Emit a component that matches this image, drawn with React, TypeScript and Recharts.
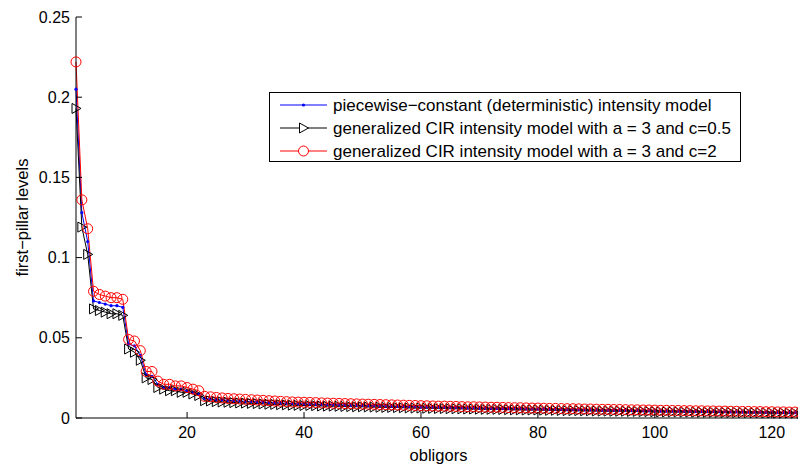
import React from 'react';
import { LineChart, Line, XAxis, YAxis, Legend } from 'recharts';

const obligors: number[] = Array.from({ length: 125 }, (_, i) => i + 1);

const xTicks = [20, 40, 60, 80, 100, 120];
const yTicks = [0, 0.05, 0.1, 0.15, 0.2, 0.25];

const seriesOrder = ['pw', 'c05', 'c2'];
const seriesNames = {
  pw: 'piecewise\u2212constant (deterministic) intensity model',
  c05: 'generalized CIR intensity model with a = 3 and c=0.5',
  c2: 'generalized CIR intensity model with a = 3 and c=2',
};

const piecewise = [
  0.205, 0.128, 0.110, 0.073, 0.072, 0.071, 0.070, 0.070, 0.069, 0.046,
  0.045, 0.039, 0.027, 0.026, 0.021, 0.019, 0.019, 0.018, 0.018, 0.017,
  0.016, 0.015, 0.0122, 0.0119, 0.0115, 0.0113, 0.0110, 0.0108, 0.0106, 0.0104,
  0.0103, 0.0101, 0.0099, 0.0097, 0.0095, 0.0094, 0.0092, 0.0090, 0.0089, 0.0088,
  0.0087, 0.0086, 0.0085, 0.0084, 0.0083, 0.0082, 0.0081, 0.0080, 0.0079, 0.0078,
  0.0077, 0.0077, 0.0076, 0.0075, 0.0074, 0.0073, 0.0072, 0.0071, 0.0070, 0.0069,
  0.0068, 0.0068, 0.0067, 0.0067, 0.0066, 0.0065, 0.0064, 0.0063, 0.0063, 0.0062,
  0.0061, 0.0060, 0.0060, 0.0059, 0.0059, 0.0058, 0.0058, 0.0057, 0.0056, 0.0056,
  0.0055, 0.0054, 0.0054, 0.0053, 0.0052, 0.0052, 0.0051, 0.0050, 0.0050, 0.0050,
  0.0049, 0.0049, 0.0048, 0.0048, 0.0047, 0.0046, 0.0046, 0.0045, 0.0045, 0.0044,
  0.0043, 0.0043, 0.0042, 0.0042, 0.0041, 0.0041, 0.0041, 0.0040, 0.0040, 0.0040,
  0.0039, 0.0039, 0.0038, 0.0038, 0.0037, 0.0037, 0.0036, 0.0036, 0.0035, 0.0035,
  0.0034, 0.0034, 0.0033, 0.0033, 0.0032,
];

const cirC05 = [
  0.193, 0.119, 0.102, 0.068, 0.067, 0.066, 0.065, 0.065, 0.064, 0.043,
  0.041, 0.036, 0.025, 0.024, 0.019, 0.018, 0.017, 0.017, 0.016, 0.016,
  0.015, 0.014, 0.0108, 0.0106, 0.0102, 0.0100, 0.0098, 0.0096, 0.0094, 0.0093,
  0.0091, 0.0090, 0.0088, 0.0086, 0.0085, 0.0083, 0.0082, 0.0080, 0.0079, 0.0078,
  0.0078, 0.0077, 0.0075, 0.0074, 0.0074, 0.0073, 0.0072, 0.0071, 0.0070, 0.0070,
  0.0069, 0.0068, 0.0067, 0.0066, 0.0066, 0.0065, 0.0064, 0.0063, 0.0062, 0.0062,
  0.0061, 0.0060, 0.0059, 0.0059, 0.0058, 0.0058, 0.0057, 0.0056, 0.0056, 0.0055,
  0.0054, 0.0054, 0.0054, 0.0053, 0.0052, 0.0051, 0.0051, 0.0050, 0.0050, 0.0050,
  0.0049, 0.0048, 0.0048, 0.0047, 0.0046, 0.0046, 0.0046, 0.0045, 0.0045, 0.0044,
  0.0043, 0.0043, 0.0042, 0.0042, 0.0042, 0.0041, 0.0041, 0.0040, 0.0040, 0.0039,
  0.0038, 0.0038, 0.0038, 0.0038, 0.0037, 0.0037, 0.0036, 0.0036, 0.0035, 0.0035,
  0.0034, 0.0034, 0.0034, 0.0034, 0.0033, 0.0033, 0.0032, 0.0032, 0.0031, 0.0031,
  0.0030, 0.0030, 0.0030, 0.0030, 0.0029,
];

const cirC2 = [
  0.222, 0.136, 0.118, 0.079, 0.077, 0.076, 0.075, 0.075, 0.074, 0.049,
  0.048, 0.042, 0.029, 0.029, 0.023, 0.021, 0.021, 0.020, 0.020, 0.019,
  0.018, 0.017, 0.0135, 0.0132, 0.0128, 0.0125, 0.0122, 0.0120, 0.0118, 0.0116,
  0.0114, 0.0112, 0.0110, 0.0108, 0.0106, 0.0104, 0.0102, 0.0100, 0.0099, 0.0098,
  0.0097, 0.0096, 0.0094, 0.0093, 0.0092, 0.0091, 0.0090, 0.0089, 0.0088, 0.0087,
  0.0086, 0.0085, 0.0084, 0.0083, 0.0082, 0.0081, 0.0080, 0.0079, 0.0078, 0.0077,
  0.0076, 0.0075, 0.0074, 0.0074, 0.0073, 0.0072, 0.0071, 0.0070, 0.0070, 0.0069,
  0.0068, 0.0067, 0.0067, 0.0066, 0.0065, 0.0064, 0.0064, 0.0063, 0.0062, 0.0062,
  0.0061, 0.0060, 0.0060, 0.0059, 0.0058, 0.0058, 0.0057, 0.0056, 0.0056, 0.0055,
  0.0054, 0.0054, 0.0053, 0.0053, 0.0052, 0.0051, 0.0051, 0.0050, 0.0050, 0.0049,
  0.0048, 0.0048, 0.0047, 0.0047, 0.0046, 0.0046, 0.0045, 0.0045, 0.0044, 0.0044,
  0.0043, 0.0043, 0.0042, 0.0042, 0.0041, 0.0041, 0.0040, 0.0040, 0.0039, 0.0039,
  0.0038, 0.0038, 0.0037, 0.0037, 0.0036,
];

const data = obligors.map((o, i) => ({
  obligor: o,
  pw: piecewise[i],
  c05: cirC05[i],
  c2: cirC2[i],
}));

const FONT = 'Liberation Sans, Arial, Helvetica, sans-serif';
const TICK_FS = 16;
const LABEL_FS = 16.5;
const LEGEND_FS = 17;

const BlueDot = (p: any) => {
  if (p.cx == null || p.cy == null) return <g key={p.index} />;
  return <circle key={p.index} cx={p.cx} cy={p.cy} r={1.6} fill="#0000ff" stroke="none" />;
};
const TriDot = (p: any) => {
  if (p.cx == null || p.cy == null) return <g key={p.index} />;
  const { cx, cy } = p;
  return (
    <path
      key={p.index}
      d={`M${cx - 4},${cy - 5} L${cx + 5},${cy} L${cx - 4},${cy + 5} Z`}
      fill="none"
      stroke="#000"
      strokeWidth={1}
    />
  );
};
const CircDot = (p: any) => {
  if (p.cx == null || p.cy == null) return <g key={p.index} />;
  return <circle key={p.index} cx={p.cx} cy={p.cy} r={5} fill="none" stroke="#ff0000" strokeWidth={1} />;
};

const XTick = (p: any) => {
  const { x, y, payload } = p;
  return (
    <g>
      <line x1={x} y1={y} x2={x} y2={y - 6} stroke="#000" />
      <text x={x} y={y + 14} textAnchor="middle" dominantBaseline="central" fontFamily={FONT} fontSize={TICK_FS} fill="#000">
        {payload.value}
      </text>
    </g>
  );
};
const TopTick = (p: any) => {
  const { x, y } = p;
  return <line x1={x} y1={y} x2={x} y2={y + 6} stroke="#000" />;
};
const YTick = (p: any) => {
  const { x, y, payload } = p;
  return (
    <g>
      <line x1={x} y1={y} x2={x + 6} y2={y} stroke="#000" />
      <text x={x - 6} y={y} textAnchor="end" dominantBaseline="central" fontFamily={FONT} fontSize={TICK_FS} fill="#000">
        {String(payload.value)}
      </text>
    </g>
  );
};

const YLabel = (p: any) => {
  const vb = p.viewBox || {};
  const cx = (vb.x ?? 16) + 6;
  const cy = (vb.y ?? 17) + (vb.height ?? 401) / 2;
  return (
    <text
      x={cx}
      y={cy}
      transform={`rotate(-90 ${cx} ${cy})`}
      textAnchor="middle"
      dominantBaseline="central"
      fontFamily={FONT}
      fontSize={LABEL_FS}
      fill="#000"
    >
      first{'\u2212'}pillar levels
    </text>
  );
};

const markerFor = (key: string, x: number, y: number) => {
  if (key === 'pw') return <circle cx={x} cy={y} r={1.6} fill="#0000ff" />;
  if (key === 'c05')
    return <path d={`M${x - 4},${y - 5} L${x + 5},${y} L${x - 4},${y + 5} Z`} fill="#fff" stroke="#000" />;
  return <circle cx={x} cy={y} r={5} fill="#fff" stroke="#ff0000" />;
};

const LegendBox = (props: any) => {
  const payload = [...(props.payload || [])].sort(
    (a: any, b: any) => seriesOrder.indexOf(a.dataKey) - seriesOrder.indexOf(b.dataKey)
  );
  return (
    <svg width={472} height={70} style={{ display: 'block' }}>
      <rect x={0.5} y={0.5} width={471} height={69} fill="#fff" stroke="#000" />
      {payload.map((e: any, i: number) => {
        const y = 13 + i * 23;
        return (
          <g key={i}>
            <line x1={11} y1={y} x2={58} y2={y} stroke={e.color} />
            {markerFor(e.dataKey, 34.5, y)}
            <text x={64} y={y} dominantBaseline="central" fontFamily={FONT} fontSize={LEGEND_FS} fill="#000">
              {e.value}
            </text>
          </g>
        );
      })}
    </svg>
  );
};

export default function App() {
  return (
    <div style={{ position: 'absolute', left: 0, top: 0, width: 798, height: 466, overflow: 'hidden', background: '#fff' }}>
      <LineChart width={802} height={466} data={data} margin={{ top: 17, right: 1, bottom: 0, left: 16 }}>
        <XAxis
          dataKey="obligor"
          type="number"
          domain={[1, 125]}
          ticks={xTicks}
          height={48}
          tickSize={0}
          tickMargin={0}
          tickLine={false}
          tick={<XTick />}
          axisLine={{ stroke: '#000' }}
          interval={0}
          label={{ value: 'obligors', position: 'insideBottom', offset: 5, style: { fontFamily: FONT, fontSize: LABEL_FS, fill: '#000' } }}
        />
        <XAxis
          xAxisId="top"
          orientation="top"
          dataKey="obligor"
          type="number"
          domain={[1, 125]}
          ticks={xTicks}
          height={0}
          tickSize={0}
          tickMargin={0}
          tickLine={false}
          tick={<TopTick />}
          axisLine={{ stroke: '#000' }}
          interval={0}
        />
        <YAxis
          type="number"
          domain={[0, 0.25]}
          ticks={yTicks}
          width={60}
          tickSize={0}
          tickMargin={0}
          tickLine={false}
          tick={<YTick />}
          axisLine={{ stroke: '#000' }}
          interval={0}
          label={<YLabel />}
        />
        <Legend
          layout="vertical"
          align="center"
          verticalAlign="middle"
          content={<LegendBox />}
          wrapperStyle={{ position: 'absolute', left: 269, top: 92, width: 472, height: 70 }}
        />
        <Line
          name={seriesNames.pw}
          dataKey="pw"
          stroke="#0000ff"
          strokeWidth={1}
          dot={BlueDot}
          activeDot={false}
          isAnimationActive={false}
        />
        <Line
          name={seriesNames.c05}
          dataKey="c05"
          stroke="#000000"
          strokeWidth={1}
          dot={TriDot}
          activeDot={false}
          isAnimationActive={false}
        />
        <Line
          name={seriesNames.c2}
          dataKey="c2"
          stroke="#ff0000"
          strokeWidth={1}
          dot={CircDot}
          activeDot={false}
          isAnimationActive={false}
        />
      </LineChart>
    </div>
  );
}
